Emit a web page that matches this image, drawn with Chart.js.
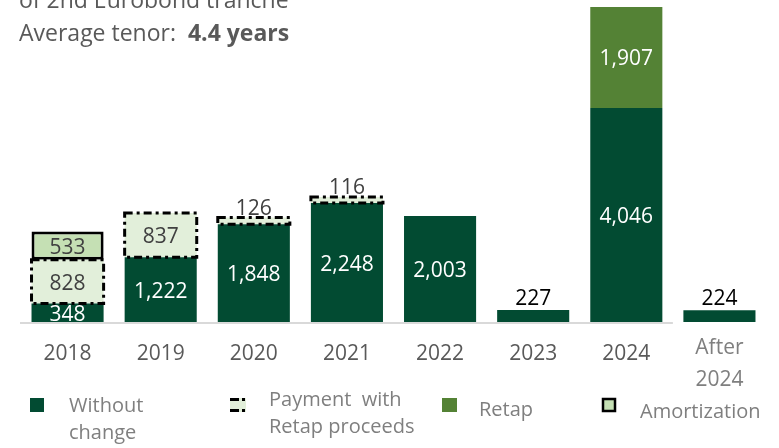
<!DOCTYPE html>
<html>
<head>
<meta charset="utf-8">
<script src="https://cdn.jsdelivr.net/npm/chart.js@4/dist/chart.umd.min.js"></script>
<style>
	html, body { margin: 0; padding: 0; background: #fff; overflow: hidden; }
	canvas { display: block; }
</style>
</head>
<body>
<canvas id="chart" width="779" height="448"></canvas>
<script>
// categories and values (USD mn)
const years = ['2018', '2019', '2020', '2021', '2022', '2023', '2024', ['After', '2024']];
const withoutChange = [348, 1222, 1848, 2248, 2003, 227, 4046, 224];
const paymentRetap = [828, 837, 126, 116, 0, 0, 0, 0];
const retap = [0, 0, 0, 0, 0, 0, 1907, 0];
const amortization = [533, 0, 0, 0, 0, 0, 0, 0];
const legendLabels = [['Without', 'change'], ['Payment  with', 'Retap proceeds'], ['Retap'], ['Amortization']];
const titleLines = ['of 2nd Eurobond tranche', 'Average tenor:  ', '4.4 years'];

const DARK = '#024b32';
const GREEN = '#548235';
const PALE = '#e2efda';
const LIGHT = '#c5e0b4';
const FONT = '"Open Sans", sans-serif';
const dashDot = [8, 4, 3, 4];

const titlePlugin = {
	id: 'titleText',
	afterDraw(chart) {
		const ctx = chart.ctx;
		ctx.save();
		ctx.fillStyle = '#595959';
		ctx.textBaseline = 'alphabetic';
		ctx.font = `23px ${FONT}`;
		ctx.fillText(titleLines[0], 19, 8);
		ctx.fillText(titleLines[1], 19, 41);
		let w = ctx.measureText(titleLines[1]).width;
		ctx.font = `bold 23px ${FONT}`;
		ctx.fillText(titleLines[2], 19 + w, 41);
		ctx.restore();
	}
};

const axisPlugin = {
	id: 'axisLine',
	beforeDatasetsDraw(chart) {
		const {ctx, chartArea} = chart;
		const x = chart.scales.x;
		const step = x.getPixelForValue(1) - x.getPixelForValue(0);
		ctx.save();
		ctx.strokeStyle = '#d9d9d9';
		ctx.lineWidth = 2;
		ctx.beginPath();
		ctx.moveTo(chartArea.left - 1, chartArea.bottom + 1);
		ctx.lineTo(x.getPixelForValue(6) + step / 2, chartArea.bottom + 1);
		ctx.stroke();
		ctx.restore();
	},
	afterDraw(chart) {
		// category labels
		const {ctx} = chart;
		const x = chart.scales.x;
		ctx.save();
		ctx.font = `21px ${FONT}`;
		ctx.textAlign = 'center';
		ctx.textBaseline = 'middle';
		years.forEach((lab, i) => {
			const px = x.getPixelForValue(i);
			if (Array.isArray(lab)) {
				ctx.fillStyle = '#7f7f7f';
				lab.forEach((line, j) => ctx.fillText(line, px, 348 + j * 32));
			} else {
				ctx.fillStyle = '#595959';
				ctx.fillText(lab, px, 354);
			}
		});
		ctx.restore();
	}
};

const labelPlugin = {
	id: 'valueLabels',
	afterDatasetsDraw(chart) {
		const ctx = chart.ctx;
		ctx.save();
		// dash-dot outline of the retap-proceeds payments
		const pay = chart.getDatasetMeta(1);
		ctx.strokeStyle = '#000';
		ctx.lineWidth = 3;
		ctx.setLineDash(dashDot);
		pay.data.forEach((bar, i) => {
			if (!paymentRetap[i]) return;
			ctx.strokeRect(bar.x - bar.width / 2, bar.y, bar.width, bar.base - bar.y);
		});
		ctx.setLineDash([]);

		ctx.font = `21px ${FONT}`;
		ctx.textAlign = 'center';
		ctx.textBaseline = 'middle';
		chart.data.datasets.forEach((ds, di) => {
			const meta = chart.getDatasetMeta(di);
			meta.data.forEach((bar, i) => {
				const v = ds.data[i];
				if (!v) return;
				const h = bar.base - bar.y;
				const text = v.toLocaleString('en-US');
				if (h < 15) {
					ctx.fillStyle = di === 0 ? '#000' : '#404040';
					ctx.fillText(text, bar.x, bar.y - (di === 0 ? 11 : 9));
				} else {
					ctx.fillStyle = ds.labelColor;
					ctx.fillText(text, bar.x, bar.y + h / 2 + 2);
				}
			});
		});
		ctx.restore();
	}
};

const legendPlugin = {
	id: 'customLegend',
	afterDraw(chart) {
		const ctx = chart.ctx;
		const iconX = [30, 230, 442, 602];
		const textX = [69, 269, 479, 640];
		const textY = [406, 400, 410, 412];
		ctx.save();
		// icons
		ctx.fillStyle = DARK;
		ctx.fillRect(iconX[0], 398, 14, 14);
		ctx.fillStyle = PALE;
		ctx.fillRect(iconX[1], 398, 16, 14);
		ctx.strokeStyle = '#000';
		ctx.lineWidth = 3;
		ctx.setLineDash([9, 3, 3, 3]);
		ctx.beginPath();
		ctx.moveTo(iconX[1], 399.5); ctx.lineTo(iconX[1] + 16, 399.5);
		ctx.moveTo(iconX[1], 410.5); ctx.lineTo(iconX[1] + 16, 410.5);
		ctx.stroke();
		ctx.setLineDash([]);
		ctx.fillStyle = GREEN;
		ctx.fillRect(iconX[2], 398, 15, 14);
		ctx.fillStyle = LIGHT;
		ctx.fillRect(iconX[3], 398, 14, 14);
		ctx.lineWidth = 2.5;
		ctx.strokeRect(iconX[3] + 1, 399, 12, 12);
		// texts
		ctx.font = `20px ${FONT}`;
		ctx.fillStyle = '#7f7f7f';
		ctx.textBaseline = 'middle';
		legendLabels.forEach((lines, k) => {
			lines.forEach((line, j) => ctx.fillText(line, textX[k], textY[k] + j * 27));
		});
		ctx.restore();
	}
};

new Chart(document.getElementById('chart'), {
	type: 'bar',
	data: {
		labels: years,
		datasets: [
			{label: 'Without change', data: withoutChange, backgroundColor: DARK, labelColor: '#fff'},
			{label: 'Payment with Retap proceeds', data: paymentRetap, backgroundColor: PALE, labelColor: '#404040'},
			{label: 'Retap', data: retap, backgroundColor: GREEN, labelColor: '#fff'},
			{label: 'Amortization', data: amortization, backgroundColor: LIGHT, borderColor: '#000',
				borderWidth: 3, borderSkipped: false, labelColor: '#404040'},
		]
	},
	options: {
		responsive: false,
		animation: false,
		devicePixelRatio: 1,
		categoryPercentage: 1,
		barPercentage: 0.774,
		layout: {padding: {left: 21, right: 13, top: 0, bottom: 126}},
		plugins: {legend: {display: false}, tooltip: {enabled: false}},
		scales: {
			x: {stacked: true, display: false},
			y: {stacked: true, display: false, min: 0, max: 6085}
		}
	},
	plugins: [axisPlugin, labelPlugin, legendPlugin, titlePlugin]
});
</script>
</body>
</html>
